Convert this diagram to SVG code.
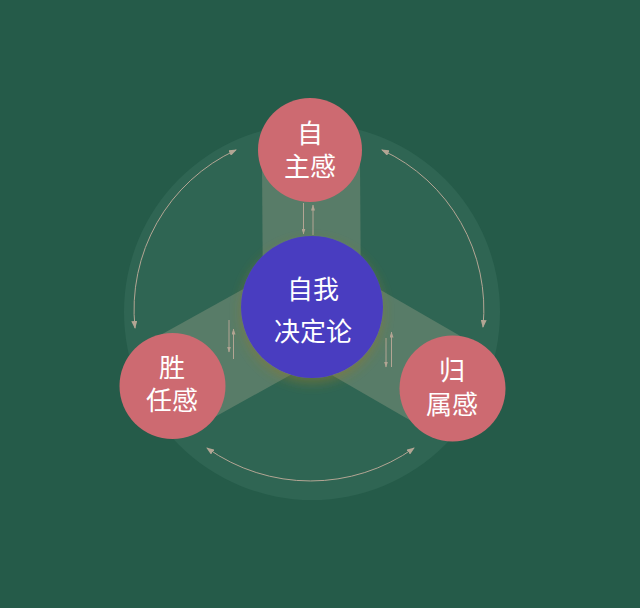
<svg xmlns="http://www.w3.org/2000/svg" width="640" height="608" viewBox="0 0 640 608">
<defs>
<style>
.node{fill:#cd6a71;}
.core{fill:#4a3ec0;}
.band{fill:#587c68;}
.lbl{font-family:"Noto Sans CJK SC","Noto Sans",sans-serif;font-size:26px;fill:#ffffff;text-anchor:middle;}
.arc{fill:none;stroke:#b3a594;stroke-width:1;}
.sm{fill:none;stroke:#b3a594;stroke-width:1;}
</style>
<marker id="ah" viewBox="0 0 8 6" refX="7" refY="3" markerWidth="8" markerHeight="6" markerUnits="userSpaceOnUse" orient="auto-start-reverse">
<path d="M0,0 L8,3 L0,6 z" fill="#b3a594"/>
</marker>
<marker id="sa" viewBox="0 0 6 4" refX="5.5" refY="2" markerWidth="6" markerHeight="4" markerUnits="userSpaceOnUse" orient="auto">
<path d="M0,0 L6,2 L0,4 z" fill="#b3a594"/>
</marker>
<filter id="shd" x="-30%" y="-30%" width="160%" height="160%">
<feDropShadow dx="0" dy="5" stdDeviation="6" flood-color="#8c7a30" flood-opacity="0.55"/>
</filter>
</defs>
<rect x="0" y="0" width="640" height="608" fill="#255b49"/>
<g id="ring">
<circle cx="312" cy="312" r="188" fill="#2f6553"/>
</g>
<g id="bands">
<rect class="band" x="0" y="-49" width="158" height="98" transform="translate(312,307) rotate(-90.4)"/>
<rect class="band" x="0" y="-49" width="160" height="98" transform="translate(312,307) rotate(151)"/>
<rect class="band" x="0" y="-49" width="162" height="98" transform="translate(312,307) rotate(30)"/>
</g>
<g id="connectors">
<path class="arc" d="M236,150 A176,176 0 0 0 135,328" marker-start="url(#ah)" marker-end="url(#ah)"/>
<path class="arc" d="M382,150 A176,176 0 0 1 483,327" marker-start="url(#ah)" marker-end="url(#ah)"/>
<path class="arc" d="M207,448 A179,179 0 0 0 414,448" marker-start="url(#ah)" marker-end="url(#ah)"/>
<line class="sm" x1="303.5" y1="203" x2="303.5" y2="234" marker-end="url(#sa)"/>
<line class="sm" x1="313" y1="235" x2="313" y2="205" marker-end="url(#sa)"/>
<line class="sm" x1="229" y1="320" x2="229" y2="352" marker-end="url(#sa)"/>
<line class="sm" x1="233.5" y1="359" x2="233.5" y2="329" marker-end="url(#sa)"/>
<line class="sm" x1="391.5" y1="367" x2="391.5" y2="332" marker-end="url(#sa)"/>
<line class="sm" x1="386" y1="338" x2="386" y2="367" marker-end="url(#sa)"/>
</g>
<g id="center">
<circle class="core" cx="312" cy="307" r="71" filter="url(#shd)"/>
<text class="lbl" x="313" y="299">自我</text>
<text class="lbl" x="313" y="341">决定论</text>
</g>
<g id="autonomy">
<circle class="node" cx="310" cy="150" r="52"/>
<text class="lbl" x="310" y="142.5">自</text>
<text class="lbl" x="310" y="176">主感</text>
</g>
<g id="competence">
<circle class="node" cx="172.5" cy="386" r="53"/>
<text class="lbl" x="172" y="376.5">胜</text>
<text class="lbl" x="172" y="410">任感</text>
</g>
<g id="relatedness">
<circle class="node" cx="452.5" cy="388.5" r="53"/>
<text class="lbl" x="452" y="380">归</text>
<text class="lbl" x="452" y="413.5">属感</text>
</g>
</svg>
